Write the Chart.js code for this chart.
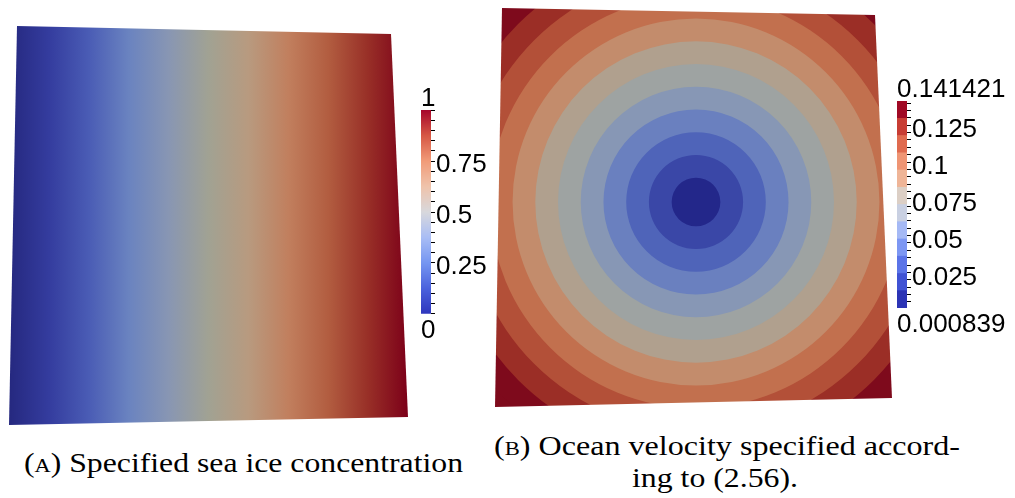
<!DOCTYPE html>
<html>
<head>
<meta charset="utf-8">
<script src="https://cdn.jsdelivr.net/npm/chart.js@4.4.1/dist/chart.umd.min.js"></script>
<style>
  html, body { margin: 0; padding: 0; background: #fff; }
  #page { position: relative; width: 1015px; height: 498px; overflow: hidden; background: #fff; }
  .box { position: absolute; }
  .box canvas { display: block; }
  .cap { position: absolute; font-family: "Liberation Serif", "Times New Roman", "DejaVu Serif", "Noto Serif", serif;
         font-size: 27px; line-height: 27px; white-space: nowrap; color: #000; transform-origin: 0 0; }
  .sc { font-variant: small-caps; }
</style>
</head>
<body>
<div id="page">
  <div class="box" style="left:9px;top:26px;width:399px;height:399px;clip-path:polygon(8px 0,382px 8px,399px 391px,0 399px)">
    <canvas id="panelA" width="399" height="399"></canvas>
  </div>
  <div class="box" style="left:421px;top:78px;width:90px;height:267px">
    <canvas id="barA" width="90" height="267"></canvas>
  </div>
  <div class="box" style="left:495px;top:8px;width:397px;height:399px;background:#7e0a1c;clip-path:polygon(7px 0,380px 7px,397px 390px,0 399px)">
    <canvas id="panelB" width="397" height="399"></canvas>
  </div>
  <div class="box" style="left:897px;top:70px;width:118px;height:269px">
    <canvas id="barB" width="118" height="269"></canvas>
  </div>
  <div class="cap" id="capA" data-w="439" style="left:24px;top:450px"><span class="sc">(a)</span> Specified sea ice concentration</div>
  <div class="cap" id="capB1" data-w="466" style="left:494px;top:433px"><span class="sc">(b)</span> Ocean velocity specified accord-</div>
  <div class="cap" id="capB2" data-w="166" style="left:632px;top:465px">ing to (2.56).</div>
</div>
<script>
// panel A: ice concentration across the domain (0 on the left, 1 on the right)
var concStops = [0, 0.1, 0.2, 0.3, 0.4, 0.5, 0.6, 0.7, 0.8, 0.9, 1];
var panelAColors = ['#25287f', '#343c9e', '#4a5cb5', '#6a83c0', '#8896b3', '#a1a293',
                    '#b89a7f', '#c17f5e', '#b25d40', '#982f27', '#7c0019'];

// colorbar A
var colorbarAStops = [0, 0.125, 0.25, 0.375, 0.5, 0.625, 0.75, 0.875, 1];
var colorbarAColors = ['#2e36bd', '#4b62dd', '#7596f1', '#a9bdf5', '#d8d8dc',
                       '#efc3ab', '#f19b78', '#d65744', '#a6052a'];
var tickValuesA = [0.25, 0.5, 0.75];
var tickLabelsA = ['0.25', '0.5', '0.75'];
var rangeLabelsA = ['0', '1'];

// panel B: ocean velocity magnitude, 12 contour bands
var bandEdgesB = [0.000839, 0.012554, 0.024268, 0.035983, 0.047697, 0.059412, 0.071127,
                  0.082841, 0.094556, 0.106270, 0.117985, 0.129700, 0.141421];
var panelBColors = ['#23278a', '#3a47a7', '#4f64b9', '#6a80bf', '#8797b5', '#9ea3a2',
                    '#b0a08e', '#c38c6c', '#c2704e', '#b35038', '#9b2e26', '#7e0a1c'];
var colorbarBColors = ['#2c34b5', '#4053d4', '#5b74e8', '#7d97f3', '#a5b9f5', '#c9d0e2',
                       '#dccfc5', '#efb597', '#ef9574', '#e06b4f', '#c83d34', '#a00a25'];
var tickValuesB = [0.025, 0.05, 0.075, 0.1, 0.125];
var tickLabelsB = ['0.025', '0.05', '0.075', '0.1', '0.125'];
var rangeLabelsB = ['0.000839', '0.141421'];

Chart.defaults.font.family = '"Liberation Sans", Arial, sans-serif';
Chart.defaults.color = '#000';
Chart.defaults.animation = false;
Chart.defaults.plugins.legend.display = false;
Chart.defaults.plugins.tooltip.enabled = false;

function gradientFill(stops, colors, axisId) {
    return function (c) {
        var chart = c.chart;
        if (!chart.chartArea) return colors[0];
        var s = chart.scales[axisId];
        var g;
        if (axisId === 'x') g = chart.ctx.createLinearGradient(s.getPixelForValue(0), 0, s.getPixelForValue(1), 0);
        else g = chart.ctx.createLinearGradient(0, s.getPixelForValue(0), 0, s.getPixelForValue(1));
        stops.forEach(function (v, i) { g.addColorStop(v, colors[i]); });
        return g;
    };
}

function minorTicks(lo, hi, step) {
    var out = [];
    for (var k = 0; lo + k * step <= hi + 1e-9; k++) out.push(+(lo + k * step).toFixed(4));
    return out;
}

function colorbarAxis(min, max, minor, values, labels, axisWidth, offset) {
    return {
        type: 'linear', position: 'right', min: min, max: max,
        afterBuildTicks: function (axis) {
            axis.ticks = minor.filter(function (v) { return v >= min && v <= max; })
                              .map(function (v) { return {value: v}; });
        },
        afterFit: function (axis) { axis.width = axisWidth; },
        border: {display: false},
        grid: {drawOnChartArea: false, drawTicks: true, tickLength: 4, tickColor: '#000', tickWidth: 1},
        ticks: {
            autoSkip: false, padding: 1, labelOffset: offset, color: '#000',
            font: {size: 26, lineHeight: 1},
            callback: function (v) {
                for (var i = 0; i < values.length; i++) {
                    if (Math.abs(values[i] - v) < 1e-6) return labels[i];
                }
                return '';
            }
        }
    };
}

function rangeTitles(top, bottom, padTop, padBottom) {
    return {
        title: {display: true, text: top, align: 'start', color: '#000',
                font: {size: 26, weight: 'normal', lineHeight: 0.85}, padding: {top: padTop, bottom: 0}},
        subtitle: {display: true, text: bottom, position: 'bottom', align: 'start', color: '#000',
                   font: {size: 26, weight: 'normal', lineHeight: 0.85}, padding: {top: padBottom, bottom: 3}}
    };
}

// panel A
new Chart(document.getElementById('panelA'), {
    type: 'bar',
    data: {
        labels: [''],
        datasets: [{
            data: [[0, 1]],
            borderWidth: 0, barPercentage: 1, categoryPercentage: 1,
            backgroundColor: gradientFill(concStops, panelAColors, 'x')
        }]
    },
    options: {
        responsive: false, indexAxis: 'y', events: [],
        scales: {
            x: {type: 'linear', min: 0, max: 1, display: false},
            y: {display: false}
        }
    }
});

// colorbar A
new Chart(document.getElementById('barA'), {
    type: 'bar',
    data: {
        labels: [''],
        datasets: [{
            data: [[0, 1]],
            borderWidth: 0, barPercentage: 1, categoryPercentage: 1,
            backgroundColor: gradientFill(colorbarAStops, colorbarAColors, 'y')
        }]
    },
    options: {
        responsive: false, events: [],
        plugins: rangeTitles(rangeLabelsA[1], rangeLabelsA[0], 10, 6),
        scales: {
            x: {display: false},
            y: colorbarAxis(0, 1, minorTicks(0, 1, 0.05), tickValuesA, tickLabelsA, 80, 4)
        }
    }
});

// panel B: one full-circle polar dataset per band, smallest on top
var bandsB = bandEdgesB.slice(1).map(function (edge, i) {
    return {data: [edge], backgroundColor: panelBColors[i], borderWidth: 0, clip: false};
});
new Chart(document.getElementById('panelB'), {
    type: 'polarArea',
    data: {labels: ['speed'], datasets: bandsB},
    options: {
        responsive: false, events: [],
        layout: {padding: {left: 5, right: 0, top: 0, bottom: 11}},
        scales: {
            r: {display: false, min: 0, max: 0.1, pointLabels: {display: false}}
        }
    }
});

// colorbar B
var barsB = colorbarBColors.map(function (col, i) {
    return {
        data: [[bandEdgesB[i], bandEdgesB[i + 1]]],
        backgroundColor: col, borderWidth: 0, grouped: false,
        barPercentage: 1, categoryPercentage: 1
    };
});
new Chart(document.getElementById('barB'), {
    type: 'bar',
    data: {labels: [''], datasets: barsB},
    options: {
        responsive: false, events: [],
        plugins: rangeTitles(rangeLabelsB[1], rangeLabelsB[0], 9, 6),
        scales: {
            x: {display: false},
            y: colorbarAxis(bandEdgesB[0], bandEdgesB[bandEdgesB.length - 1], minorTicks(0.005, 0.14, 0.005),
                            tickValuesB, tickLabelsB, 108, 5)
        }
    }
});

// stretch captions to the widths in the figure
document.querySelectorAll('.cap').forEach(function (el) {
    var w = el.getBoundingClientRect().width;
    var target = +el.getAttribute('data-w');
    el.style.transform = 'scaleX(' + (target / w) + ')';
});
</script>
</body>
</html>
